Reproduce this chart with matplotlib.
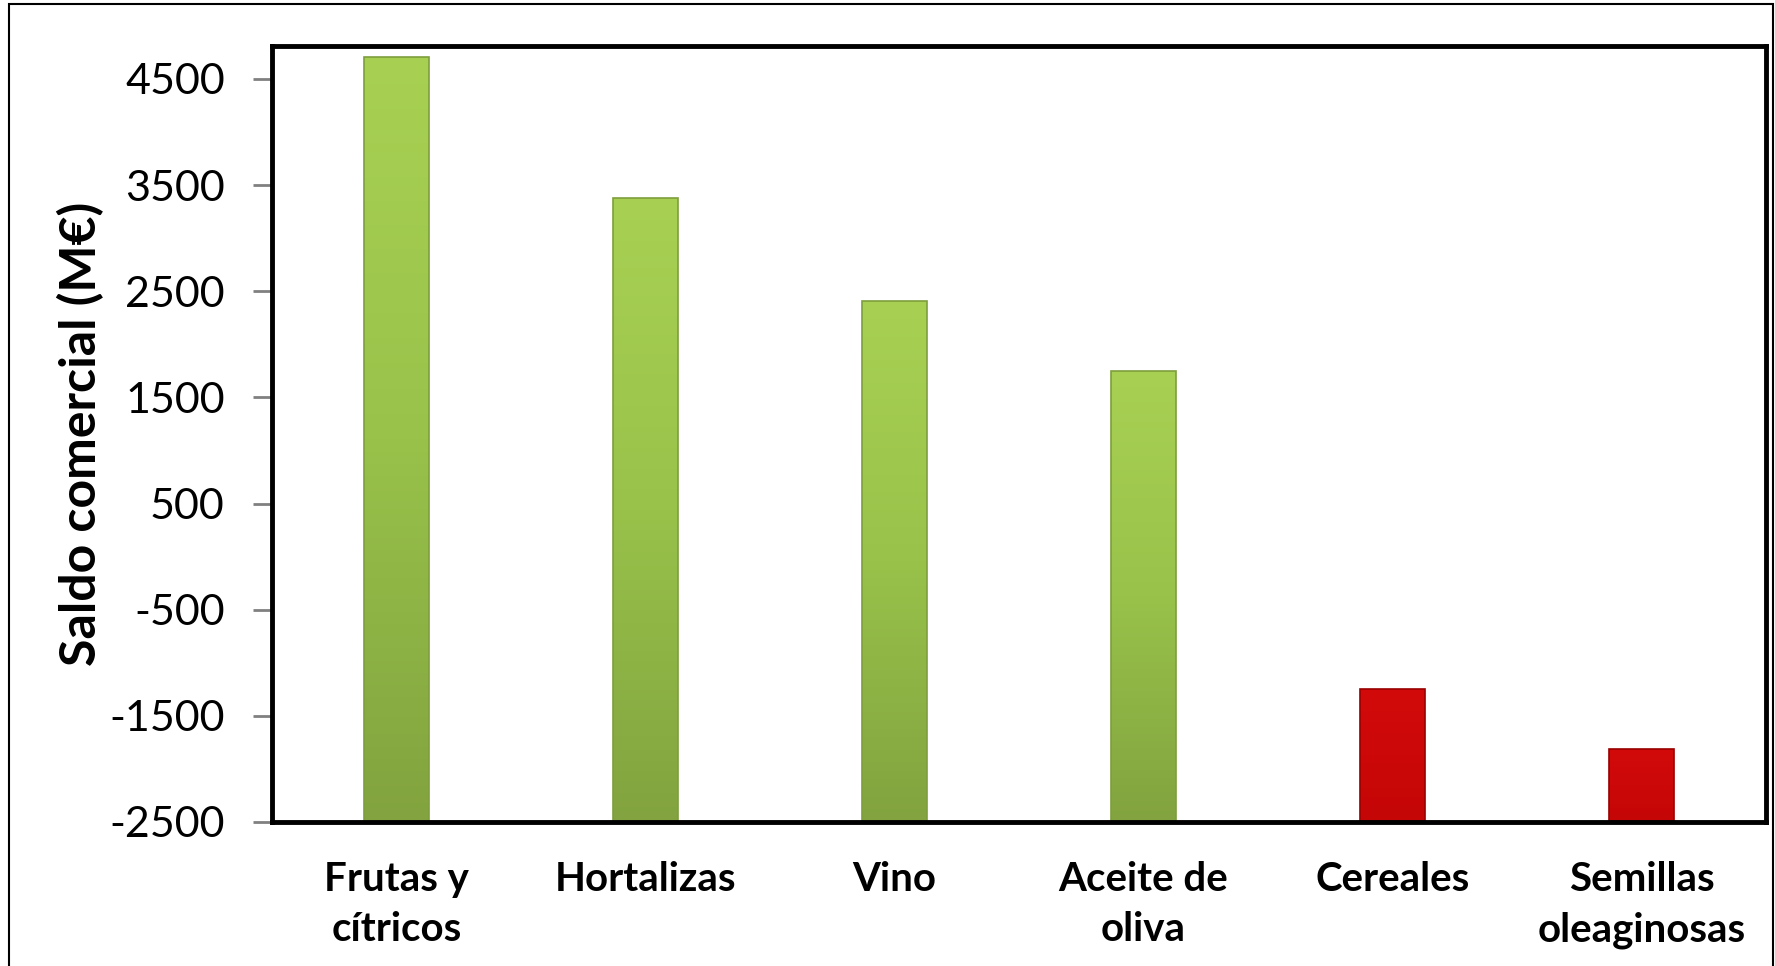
import numpy as np
import matplotlib.pyplot as plt
from matplotlib.patches import Rectangle
from matplotlib.colors import LinearSegmentedColormap

# datos
categorias = ["Frutas y\ncítricos", "Hortalizas", "Vino", "Aceite de\noliva",
              "Cereales", "Semillas\noleaginosas"]
saldo = [4707, 3378, 2408, 1745, -1243, -1815]
ticks_y = [4500, 3500, 2500, 1500, 500, -500, -1500, -2500]

base = -2500
plt.rcParams['font.family'] = ['Lato', 'DejaVu Sans']

fig = plt.figure(figsize=(17.75, 9.66), dpi=100)
ax = fig.add_axes([0.1532, 0.1491, 0.9949 - 0.1532, 0.9524 - 0.1491])

x = np.arange(len(categorias))
colores = ['#A2CB4E' if v >= 0 else '#CC0808' for v in saldo]
bordes = ['#7E9E3C' if v >= 0 else '#9A0000' for v in saldo]
alturas = [v - base for v in saldo]
barras = ax.bar(x, alturas, bottom=base, width=0.26, color=colores,
                edgecolor=bordes, linewidth=1.2, zorder=2)

ax.set_xlim(-0.5, len(categorias) - 0.5)
ax.set_ylim(base, 4811)

# degradado vertical dentro de cada barra
cm_verde = LinearSegmentedColormap.from_list('v', ['#82A33F', '#98C24A', '#A8D153'])
cm_rojo = LinearSegmentedColormap.from_list('r', ['#C40606', '#CC0808', '#D20A0A'])
grad = np.linspace(0, 1, 256).reshape(-1, 1)
for b, v in zip(barras, saldo):
    x0, y0 = b.get_x(), b.get_y()
    w, h = b.get_width(), b.get_height()
    im = ax.imshow(grad, cmap=cm_verde if v >= 0 else cm_rojo, origin='lower',
                   extent=[x0, x0 + w, y0, y0 + h], aspect='auto', zorder=2.5)
    im.set_clip_path(b)
    b.set_zorder(3)
    b.set_facecolor('none')

ax.set_xlim(-0.5, len(categorias) - 0.5)
ax.set_ylim(base, 4811)
ax.set_yticks(ticks_y)
ax.set_yticklabels([str(t) for t in ticks_y])
ax.set_xticks(x)
ax.set_xticklabels(categorias, fontsize=29, fontweight='bold', linespacing=1.45)

ax.tick_params(axis='y', direction='out', length=14, width=2, color='#808080',
               labelsize=31, pad=20)
ax.tick_params(axis='x', length=0, pad=28)

for s in ax.spines.values():
    s.set_linewidth(3.5)
    s.set_color('black')
    s.set_zorder(5)

ax.set_ylabel("Saldo comercial (M€)", fontsize=36, fontweight='bold')
ax.yaxis.set_label_coords(-0.112, 0.5)

# marco exterior
fig.patches.append(Rectangle((9 / 1775, -0.05), (1773 - 9) / 1775, 1.05 - 4 / 966,
                             transform=fig.transFigure, fill=False,
                             edgecolor='black', linewidth=1.5))

fig.savefig("out.png", dpi=100)
